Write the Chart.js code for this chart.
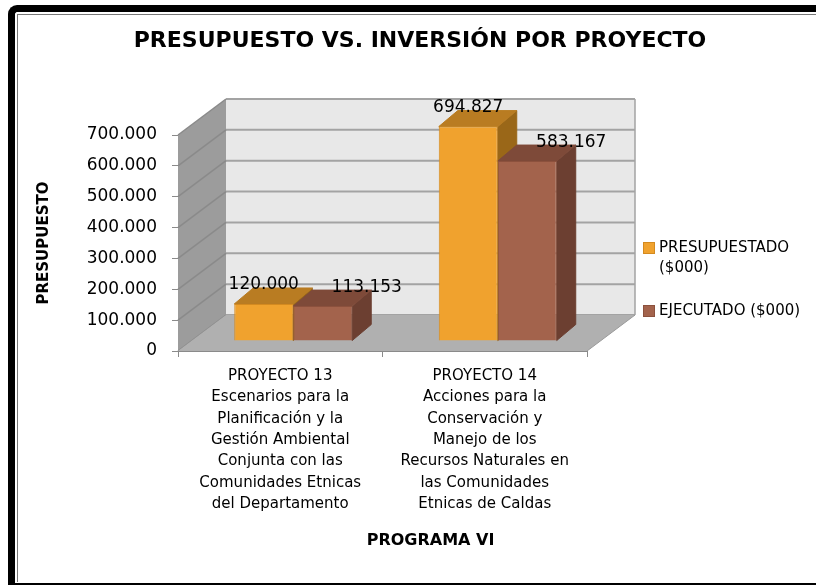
<!DOCTYPE html>
<html>
<head>
<meta charset="utf-8">
<script src="https://cdn.jsdelivr.net/npm/chart.js@4/dist/chart.umd.min.js"></script>
<style>
  body { margin: 0; width: 816px; height: 588px; overflow: hidden; background: #fff; position: relative; }
  #frame {
    position: absolute; left: 8px; top: 5px; width: 900px; height: 580px; box-sizing: border-box;
    border-left: 7px solid #000; border-top: 7px solid #000; border-bottom: 2px solid #000;
    border-top-left-radius: 9px;
  }
  #frame::after {
    content: ''; position: absolute; left: 2px; top: 2px; right: 0; bottom: 1px;
    border-left: 1px solid #777; border-top: 1px solid #777;
  }
  #chart { position: absolute; left: 0; top: 0; }
</style>
</head>
<body>
<div id="frame"></div>
<canvas id="chart" width="816" height="588"></canvas>
<script>
const fontFamily = "'DejaVu Sans', sans-serif";

// data
const categories = [
  ['PROYECTO 13', 'Escenarios para la', 'Planificación y la', 'Gestión Ambiental', 'Conjunta con las', 'Comunidades Etnicas', 'del Departamento'],
  ['PROYECTO 14', 'Acciones para la', 'Conservación y', 'Manejo de los', 'Recursos Naturales en', 'las Comunidades', 'Etnicas de Caldas']
];
const seriesNames = ['PRESUPUESTADO ($000)', 'EJECUTADO ($000)'];
const presupuestado = [120000, 694827];
const ejecutado = [113153, 583167];
const yMax = 700000;
const yStep = 100000;

// look of the 3d boxes
const frontColors = ['#F0A22E', '#A3634C'];
const borderColors = ['#D48A1F', '#8C513D'];
const topColors = ['#B97C22', '#7E4A39'];
const sideColors = ['#9A6718', '#6C3F31'];

const wallDepth = { x: 48, y: -36 };
const barShift = { x: 13, y: -10 };
const barDepth = { x: 19, y: -16 };
const labelShift = [{ x: 0, y: -15 }, { x: 44, y: -14 }];

function fmt(v) {
  return String(v).replace(/\B(?=(\d{3})+(?!\d))/g, '.');
}

function poly(ctx, pts) {
  ctx.beginPath();
  ctx.moveTo(pts[0][0], pts[0][1]);
  for (let i = 1; i < pts.length; i++) ctx.lineTo(pts[i][0], pts[i][1]);
  ctx.closePath();
}

function line(ctx, x1, y1, x2, y2) {
  ctx.beginPath();
  ctx.moveTo(x1, y1);
  ctx.lineTo(x2, y2);
  ctx.stroke();
}

const box3d = {
  id: 'box3d',
  beforeDatasetsDraw(chart) {
    const { ctx, chartArea: a, scales: { y } } = chart;
    const dx = wallDepth.x, dy = wallDepth.y;
    const top = y.getPixelForValue(yMax);
    const bot = y.getPixelForValue(0);

    ctx.save();
    // side wall
    ctx.fillStyle = '#9C9C9C';
    poly(ctx, [[a.left, bot], [a.left, top], [a.left + dx, top + dy], [a.left + dx, bot + dy]]);
    ctx.fill();
    // back wall
    ctx.fillStyle = '#E8E8E8';
    ctx.fillRect(a.left + dx, top + dy, a.right - a.left, bot - top);

    y.ticks.forEach(t => {
      const p = y.getPixelForValue(t.value);
      ctx.strokeStyle = '#A3A3A3';
      ctx.lineWidth = 2;
      line(ctx, a.left + dx, p + dy, a.right + dx, p + dy);
      ctx.strokeStyle = '#8A8A8A';
      ctx.lineWidth = 1.5;
      line(ctx, a.left, p, a.left + dx, p + dy);
    });
    ctx.strokeStyle = '#A3A3A3';
    ctx.lineWidth = 1.5;
    line(ctx, a.right + dx, top + dy, a.right + dx, bot + dy);

    // floor
    ctx.fillStyle = '#B0B0B0';
    poly(ctx, [[a.left, bot], [a.right, bot], [a.right + dx, bot + dy], [a.left + dx, bot + dy]]);
    ctx.fill();
    ctx.strokeStyle = '#999';
    ctx.lineWidth = 1;
    line(ctx, a.right, bot, a.right + dx, bot + dy);
    ctx.restore();

    // bars are drawn a bit into the depth, with tops and sides
    ctx.save();
    ctx.translate(barShift.x, barShift.y);
    chart.data.datasets.forEach((ds, i) => {
      chart.getDatasetMeta(i).data.forEach(bar => {
        const l = bar.x - bar.width / 2;
        const r = bar.x + bar.width / 2;
        const bx = barDepth.x, by = barDepth.y;
        ctx.lineWidth = 1;
        ctx.strokeStyle = sideColors[i];
        ctx.fillStyle = sideColors[i];
        poly(ctx, [[r, bar.y], [r + bx, bar.y + by], [r + bx, bar.base + by], [r, bar.base]]);
        ctx.fill();
        ctx.stroke();
        ctx.fillStyle = topColors[i];
        ctx.strokeStyle = topColors[i];
        poly(ctx, [[l, bar.y], [l + bx, bar.y + by], [r + bx, bar.y + by], [r, bar.y]]);
        ctx.fill();
        ctx.stroke();
      });
    });
  },
  afterDatasetsDraw(chart) {
    const { ctx } = chart;
    ctx.restore();

    ctx.save();
    ctx.font = '17px ' + fontFamily;
    ctx.fillStyle = '#000';
    ctx.textAlign = 'center';
    ctx.textBaseline = 'alphabetic';
    chart.data.datasets.forEach((ds, i) => {
      chart.getDatasetMeta(i).data.forEach((bar, j) => {
        ctx.fillText(fmt(ds.data[j]), bar.x + barShift.x + labelShift[i].x, bar.y + barShift.y + labelShift[i].y);
      });
    });
    ctx.restore();
  },
  afterDraw(chart) {
    const { ctx, chartArea: a, scales: { x } } = chart;
    ctx.save();
    // x axis title, centred on the floor
    ctx.font = 'bold 16px ' + fontFamily;
    ctx.fillStyle = '#000';
    ctx.textAlign = 'center';
    ctx.textBaseline = 'middle';
    ctx.fillText('PROGRAMA VI', (a.left + a.right) / 2 + wallDepth.x, x.bottom - 27);

    // legend
    ctx.font = '15px ' + fontFamily;
    ctx.textAlign = 'left';
    const lx = a.right + 56;
    const maxW = 816 - lx - 24;
    let ly = 248;
    chart.data.datasets.forEach((ds, i) => {
      const words = ds.label.split(' ');
      const lines = [];
      let cur = '';
      words.forEach(w => {
        const t = cur ? cur + ' ' + w : w;
        if (cur && ctx.measureText(t).width > maxW) {
          lines.push(cur);
          cur = w;
        } else {
          cur = t;
        }
      });
      lines.push(cur);
      ctx.fillStyle = frontColors[i];
      ctx.strokeStyle = borderColors[i];
      ctx.lineWidth = 1;
      ctx.fillRect(lx + 0.5, ly - 5.5, 11, 11);
      ctx.strokeRect(lx + 0.5, ly - 5.5, 11, 11);
      ctx.fillStyle = '#000';
      lines.forEach((s, k) => ctx.fillText(s, lx + 16, ly + k * 20));
      ly += lines.length * 20 + 23;
    });
    ctx.restore();
  }
};

new Chart(document.getElementById('chart'), {
  type: 'bar',
  data: {
    labels: categories,
    datasets: [
      {
        label: seriesNames[0],
        data: presupuestado,
        backgroundColor: frontColors[0],
        borderColor: borderColors[0],
        borderWidth: 1
      },
      {
        label: seriesNames[1],
        data: ejecutado,
        backgroundColor: frontColors[1],
        borderColor: borderColors[1],
        borderWidth: 1
      }
    ]
  },
  options: {
    responsive: false,
    animation: false,
    events: [],
    datasets: {
      bar: { categoryPercentage: 0.577, barPercentage: 1 }
    },
    layout: { padding: { left: 24, right: 0, top: 12, bottom: 20 } },
    plugins: {
      legend: { display: false },
      tooltip: { enabled: false },
      title: {
        display: true,
        text: 'PRESUPUESTO VS. INVERSIÓN POR PROYECTO',
        color: '#000',
        font: { family: fontFamily, size: 22, weight: 'bold', lineHeight: 1.2 },
        padding: { top: 16, bottom: 80.6 }
      }
    },
    scales: {
      x: {
        offset: true,
        grid: { display: true, drawOnChartArea: false, tickLength: 6, color: '#8A8A8A' },
        border: { display: true, color: '#8A8A8A' },
        ticks: {
          color: '#000',
          padding: 8,
          maxRotation: 0,
          autoSkip: false,
          font: { family: fontFamily, size: 15, lineHeight: 1.43 }
        },
        afterFit(scale) { scale.height = 217; }
      },
      y: {
        min: 0,
        max: yMax,
        grid: { drawOnChartArea: false, tickLength: 6, color: '#8A8A8A' },
        border: { display: true, color: '#8A8A8A' },
        ticks: {
          stepSize: yStep,
          color: '#000',
          padding: 15,
          font: { family: fontFamily, size: 17 },
          callback: v => fmt(v)
        },
        title: {
          display: true,
          text: 'PRESUPUESTO',
          color: '#000',
          font: { family: fontFamily, size: 15, weight: 'bold', lineHeight: 1.2 },
          padding: { top: 11, bottom: 0 }
        },
        afterFit(scale) { scale.width = 154; }
      },
      yR: {
        position: 'right',
        display: true,
        grid: { display: false },
        border: { display: false },
        ticks: { display: false },
        afterFit(scale) { scale.width = 229; }
      }
    }
  },
  plugins: [box3d]
});
</script>
</body>
</html>
